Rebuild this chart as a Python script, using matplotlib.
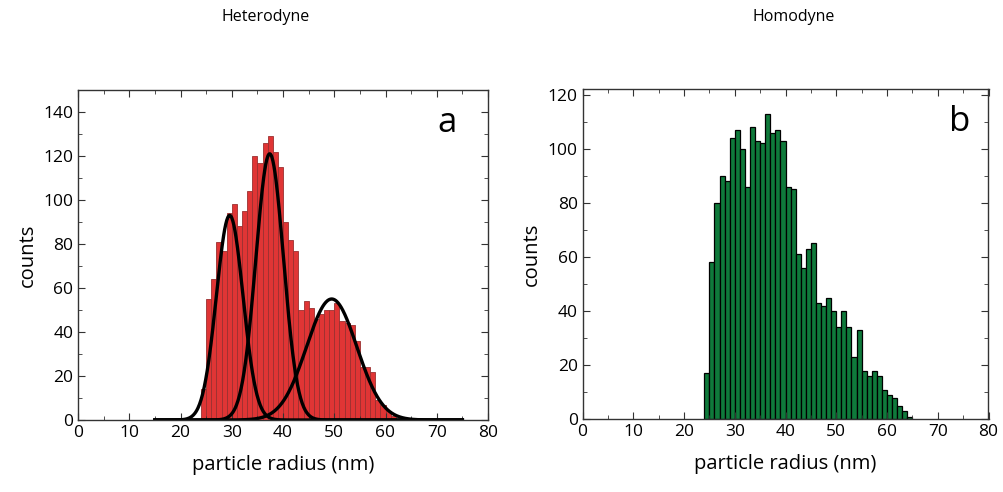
import numpy as np
import matplotlib
matplotlib.use("Agg")
import matplotlib.pyplot as plt
from matplotlib.ticker import MultipleLocator

plt.rcParams["font.family"] = ["Open Sans", "DejaVu Sans"]

# levy histogram (heterodyne), biny po 1 nm od 24 nm
het_start = 24
het_counts = [14, 55, 64, 81, 77, 94, 98, 88, 95, 104, 120, 117, 126, 129,
              122, 115, 90, 82, 77, 50, 54, 51, 46, 48, 50, 50, 53, 45, 44,
              43, 36, 24, 24, 22, 9, 7, 4, 2]

# tri gaussovske fity: amplituda, stred, sigma
fit_amp = [93, 121, 55]
fit_mu = [29.6, 37.4, 49.5]
fit_sigma = [2.6, 2.7, 4.9]

# pravy histogram (homodyne)
hom_start = 24
hom_counts = [17, 58, 80, 90, 88, 104, 107, 100, 86, 108, 103, 102, 113, 106,
              107, 103, 86, 85, 61, 56, 63, 65, 43, 42, 45, 40, 34, 40, 34,
              23, 33, 18, 16, 18, 16, 11, 9, 8, 5, 3, 1]

fig = plt.figure(figsize=(10.04, 4.92), dpi=100)
ax1 = fig.add_axes([78 / 1004, 72 / 492, 410 / 1004, 330 / 492])
ax2 = fig.add_axes([582.5 / 1004, 72.7 / 492, 406 / 1004, 330 / 492])

# heterodyne
x_het = het_start + np.arange(len(het_counts))
ax1.bar(x_het, het_counts, width=1.0, align="edge", color="#e03535",
        edgecolor="#9b3030", linewidth=0.6)
xf = np.linspace(15, 75, 600)
for a, m, s in zip(fit_amp, fit_mu, fit_sigma):
    ax1.plot(xf, a * np.exp(-(xf - m) ** 2 / (2 * s ** 2)), color="black", lw=2.4)
ax1.set_ylim(0, 150)
ax1.yaxis.set_major_locator(MultipleLocator(20))
ax1.yaxis.set_minor_locator(MultipleLocator(10))
ax1.text(0.9, 0.9, "a", transform=ax1.transAxes, fontsize=25,
         ha="center", va="center")

# homodyne
x_hom = hom_start + np.arange(len(hom_counts))
ax2.bar(x_hom, hom_counts, width=1.0, align="edge", color="#0f7a3b",
        edgecolor="black", linewidth=0.9)
ax2.set_ylim(0, 122)
ax2.yaxis.set_major_locator(MultipleLocator(20))
ax2.yaxis.set_minor_locator(MultipleLocator(10))
ax2.text(0.93, 0.9, "b", transform=ax2.transAxes, fontsize=25,
         ha="center", va="center")

for ax in (ax1, ax2):
    ax.set_xlim(0, 80)
    ax.xaxis.set_major_locator(MultipleLocator(10))
    ax.xaxis.set_minor_locator(MultipleLocator(5))
    ax.tick_params(which="both", direction="in", top=True, right=True,
                   labelsize=12.5, color="#333333")
    ax.tick_params(which="major", length=5)
    ax.tick_params(which="minor", length=3)
    for sp in ax.spines.values():
        sp.set_color("#333333")
        sp.set_linewidth(1.0)
    ax.set_xlabel("particle radius (nm)", fontsize=14.5, labelpad=10)
    ax.set_ylabel("counts", fontsize=14.5, labelpad=4)

# nula na pravem grafu je mensi
fig.canvas.draw()
ax2.get_yticklabels()[0].set_fontsize(9)

fig.text(266 / 1004, 1 - 17 / 492, "Heterodyne", fontsize=11.5,
         ha="center", va="center")
fig.text(794 / 1004, 1 - 17 / 492, "Homodyne", fontsize=11.5,
         ha="center", va="center")

fig.savefig("out.png", dpi=100)
